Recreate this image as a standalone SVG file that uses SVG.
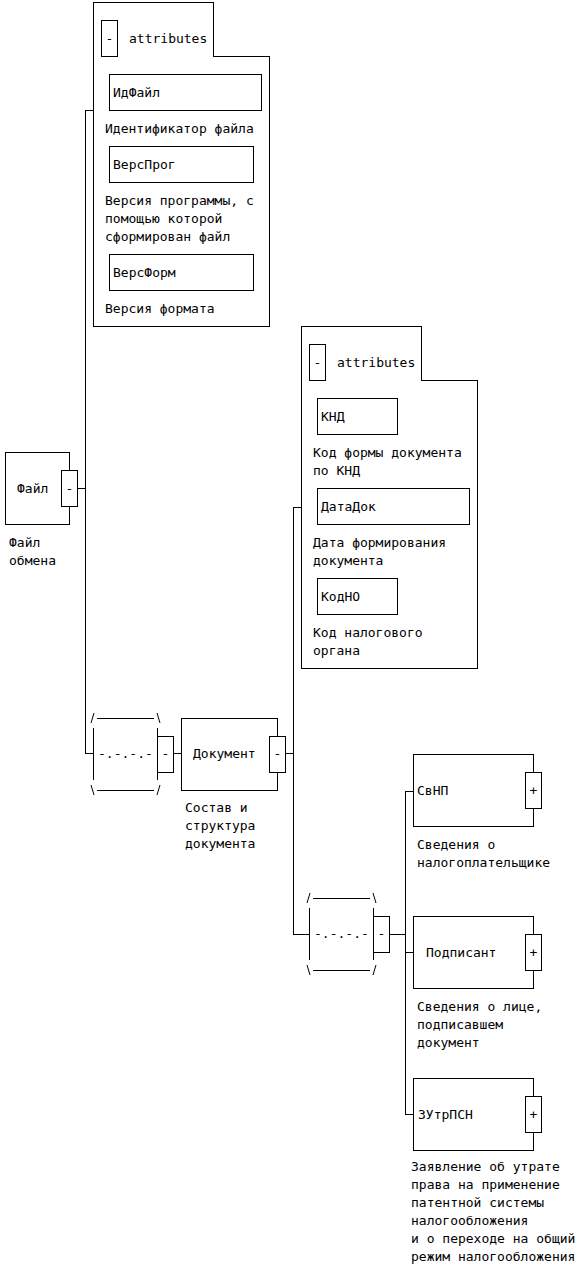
<svg xmlns="http://www.w3.org/2000/svg" width="582" height="1271" viewBox="0 0 582 1271">
<style>
.b{fill:#fff;stroke:#000;stroke-width:1;shape-rendering:crispEdges}
.l{fill:none;stroke:#000;stroke-width:1;shape-rendering:crispEdges}
.s{fill:none;stroke:#000;stroke-width:1}
text{font-family:"DejaVu Sans Mono","Liberation Mono",monospace;font-size:13px;fill:#000}
.c{text-anchor:middle}
</style>
<rect width="582" height="1271" fill="#fff"/>
<g id="connectors">
<path class="l" d="M77,488.5H85.5M85.5,110V753M85,110.5H93M85,753.5H93"/>
<path class="l" d="M173,753.5H181M285,753.5H293M293.5,507V934M293,507.5H301M293,934.5H309"/>
<path class="l" d="M389,934.5H405M405.5,791V1114M405,791.5H413M405,952.5H413M405,1114.5H413"/>
</g>
<g id="file">
<rect class="b" x="5.5" y="452.5" width="64" height="72"/>
<text x="17" y="493">Файл</text>
<rect class="b" x="61.5" y="470.5" width="16" height="36"/>
<text class="c" x="69.5" y="493">-</text>
<text x="9" y="547">Файл</text>
<text x="9" y="565">обмена</text>
</g>
<g id="attributes1">
<path class="b" d="M93.5,2.5H213.5V56.5H269.5V326.5H93.5Z"/>
<rect class="b" x="101.5" y="20.5" width="16" height="36"/>
<text class="c" x="109.5" y="43">-</text>
<text x="129" y="43">attributes</text>
<g id="IdFile">
<rect class="b" x="109.5" y="74.5" width="152" height="36"/>
<text x="113" y="97">ИдФайл</text>
<text x="105" y="133">Идентификатор файла</text>
</g>
<g id="VersProg">
<rect class="b" x="109.5" y="146.5" width="144" height="36"/>
<text x="113" y="169">ВерсПрог</text>
<text x="105" y="205">Версия программы, с</text>
<text x="105" y="223">помощью которой</text>
<text x="105" y="241">сформирован файл</text>
</g>
<g id="VersForm">
<rect class="b" x="109.5" y="254.5" width="144" height="36"/>
<text x="113" y="277">ВерсФорм</text>
<text x="105" y="313">Версия формата</text>
</g>
</g>
<g id="choice1">
<path class="l" d="M97,718.5H154M97,790.5H154M93.5,728V780M157.5,728V780"/>
<path class="s" d="M91,723L94,713M157,713L160,723M91,785L94,795M157,795L160,785"/>
<rect class="b" x="157.5" y="736.5" width="16" height="36"/>
<text class="c" x="165.5" y="758">-</text>
<text x="98" y="758">-.-.-.-</text>
</g>
<g id="document">
<rect class="b" x="181.5" y="718.5" width="96" height="72"/>
<text x="193" y="758">Документ</text>
<rect class="b" x="269.5" y="736.5" width="16" height="36"/>
<text class="c" x="277.5" y="758">-</text>
<text x="185" y="812">Состав и</text>
<text x="185" y="830">структура</text>
<text x="185" y="848">документа</text>
</g>
<g id="attributes2">
<path class="b" d="M301.5,326.5H421.5V380.5H477.5V668.5H301.5Z"/>
<rect class="b" x="309.5" y="344.5" width="16" height="36"/>
<text class="c" x="317.5" y="367">-</text>
<text x="337" y="367">attributes</text>
<g id="KND">
<rect class="b" x="317.5" y="398.5" width="80" height="36"/>
<text x="321" y="421">КНД</text>
<text x="313" y="457">Код формы документа</text>
<text x="313" y="475">по КНД</text>
</g>
<g id="DataDok">
<rect class="b" x="317.5" y="488.5" width="152" height="36"/>
<text x="321" y="511">ДатаДок</text>
<text x="313" y="547">Дата формирования</text>
<text x="313" y="565">документа</text>
</g>
<g id="KodNO">
<rect class="b" x="317.5" y="578.5" width="80" height="36"/>
<text x="321" y="601">КодНО</text>
<text x="313" y="637">Код налогового</text>
<text x="313" y="655">органа</text>
</g>
</g>
<g id="choice2">
<path class="l" d="M313,898.5H370M313,970.5H370M309.5,908V960M373.5,908V960"/>
<path class="s" d="M307,903L310,893M373,893L376,903M307,965L310,975M373,975L376,965"/>
<rect class="b" x="373.5" y="916.5" width="16" height="36"/>
<text class="c" x="381.5" y="938">-</text>
<text x="314" y="938">-.-.-.-</text>
</g>
<g id="SvNP">
<rect class="b" x="413.5" y="754.5" width="120" height="72"/>
<text x="417" y="795">СвНП</text>
<rect class="b" x="525.5" y="772.5" width="16" height="36"/>
<text class="c" x="533.5" y="795">+</text>
<text x="417" y="849">Сведения о</text>
<text x="417" y="867">налогоплательщике</text>
</g>
<g id="Podpisant">
<rect class="b" x="413.5" y="916.5" width="120" height="72"/>
<text x="426" y="957">Подписант</text>
<rect class="b" x="525.5" y="934.5" width="16" height="36"/>
<text class="c" x="533.5" y="957">+</text>
<text x="417" y="1011">Сведения о лице,</text>
<text x="417" y="1029">подписавшем</text>
<text x="417" y="1047">документ</text>
</g>
<g id="ZUtrPSN">
<rect class="b" x="413.5" y="1078.5" width="120" height="72"/>
<text x="418" y="1119">ЗУтрПСН</text>
<rect class="b" x="525.5" y="1096.5" width="16" height="36"/>
<text class="c" x="533.5" y="1119">+</text>
<text x="411" y="1171">Заявление об утрате</text>
<text x="411" y="1189">права на применение</text>
<text x="411" y="1207">патентной системы</text>
<text x="411" y="1225">налогообложения</text>
<text x="411" y="1243">и о переходе на общий</text>
<text x="411" y="1261">режим налогообложения</text>
</g>
</svg>
